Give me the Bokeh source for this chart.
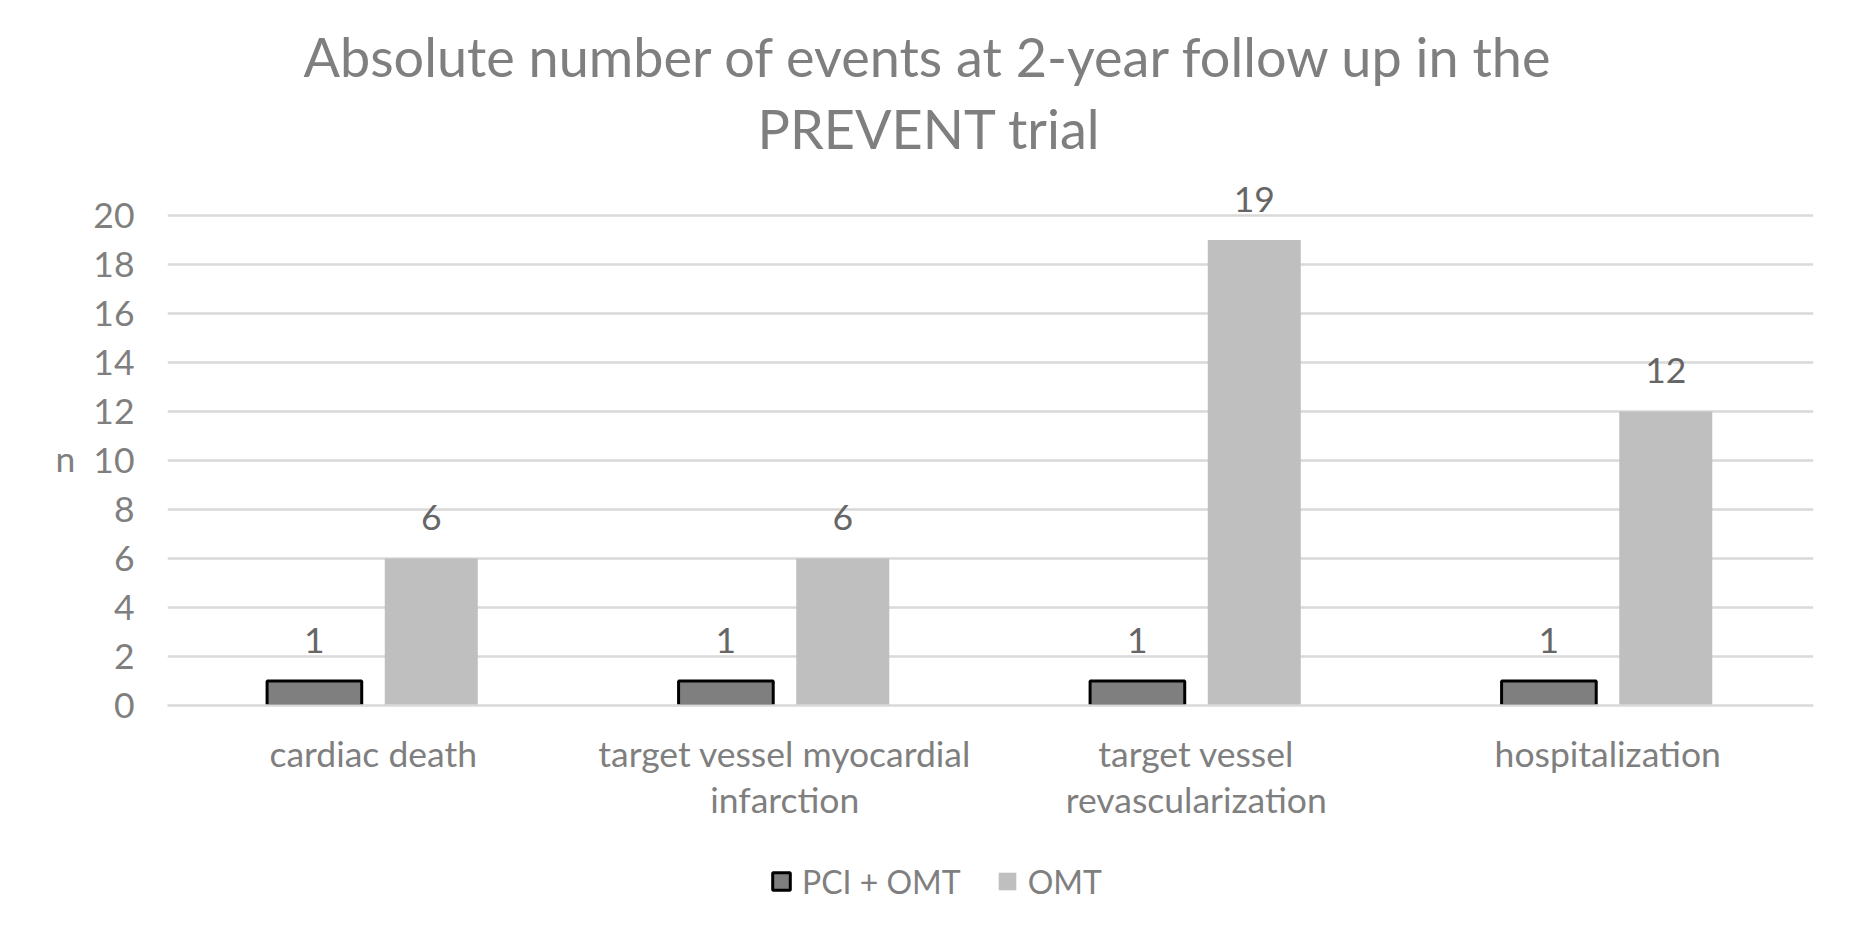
from bokeh.plotting import figure
from bokeh.layouts import column
from bokeh.models import (ColumnDataSource, FactorRange, Range1d, FixedTicker, BoxAnnotation,
                          LabelSet, Title, Legend, LegendItem)
from bokeh.core.properties import value
from bokeh.transform import dodge
from bokeh.embed import file_html
from bokeh.resources import INLINE

# ---- data ----
categories = ["cardiac death", "target vessel myocardial\ninfarction",
              "target vessel\nrevascularization", "hospitalization"]
pci_omt = [1, 1, 1, 1]
omt = [6, 6, 19, 12]
series_names = ["PCI + OMT", "OMT"]
title_lines = ["Absolute number of events at 2-year follow up in the", "PREVENT trial"]
y_label = "n"
y_ticks = [0, 2, 4, 6, 8, 10, 12, 14, 16, 18, 20]

FONT = "Lato"
TXT = "#7f7f7f"
FS = "35.5px"
PCI_STYLE = dict(fill_color="#7f7f7f", line_color="black", line_width=3)
OMT_STYLE = dict(fill_color="#bfbfbf", line_color=None)

src = ColumnDataSource(dict(cat=categories, pci=pci_omt, omt=omt,
                            pci_t=[str(v) for v in pci_omt], omt_t=[str(v) for v in omt]))

p = figure(width=1849, height=850, x_range=FactorRange(*categories), y_range=Range1d(0, 22.04),
           output_backend="svg", toolbar_location=None,
           min_border_left=167, min_border_right=36, min_border_top=165, min_border_bottom=145)
p.outline_line_color = None
p.background_fill_color = "white"
p.border_fill_color = "white"

r1 = p.vbar(x=dodge("cat", -0.143, range=p.x_range), top="pci", width=0.23, source=src, **PCI_STYLE)
r2 = p.vbar(x=dodge("cat", 0.141, range=p.x_range), top="omt", width=0.226, source=src, **OMT_STYLE)

for col, txt, off in (("pci", "pci_t", -0.143), ("omt", "omt_t", 0.141)):
    p.add_layout(LabelSet(x=dodge("cat", off, range=p.x_range), y=col, text=txt, source=src,
                          y_offset=28, text_align="center", text_baseline="alphabetic",
                          text_font=value(FONT), text_font_size=FS, text_color="#666666"))

# grid / axes
p.xgrid.grid_line_color = None
p.ygrid.grid_line_color = "#d9d9d9"
p.ygrid.grid_line_width = 2.7
p.ygrid.level = "underlay"
p.yaxis.ticker = FixedTicker(ticks=y_ticks)
p.yaxis.axis_line_color = None
p.yaxis.major_tick_line_color = None
p.yaxis.minor_tick_line_color = None
p.yaxis.major_label_standoff = 27
p.yaxis.major_label_text_font = FONT
p.yaxis.major_label_text_font_size = FS
p.yaxis.major_label_text_color = TXT
# empty first line drops the "n" to the middle of the 0-20 scale
p.yaxis.axis_label = "\n" + y_label
p.yaxis.axis_label_orientation = "horizontal"
p.yaxis.axis_label_text_font = FONT
p.yaxis.axis_label_text_font_size = FS
p.yaxis.axis_label_text_font_style = "normal"
p.yaxis.axis_label_text_color = TXT
p.yaxis.axis_label_text_line_height = 1.07
p.yaxis.axis_label_standoff = 15

p.xaxis.axis_line_color = "#d9d9d9"
p.xaxis.axis_line_width = 2.7
p.xaxis.major_tick_line_color = None
p.xaxis.minor_tick_line_color = None
p.xaxis.major_label_standoff = 20
p.xaxis.major_label_text_font = FONT
p.xaxis.major_label_text_font_size = FS
p.xaxis.major_label_text_color = TXT
p.xaxis.major_label_text_line_height = 1.07
p.xaxis.major_label_orientation = "horizontal"

# title: two lines
p.title.text = title_lines[0]
p.title.align = "left"
p.title.offset = 136
p.title.standoff = 0
p.title.text_font = FONT
p.title.text_font_size = "54px"
p.title.text_font_style = "normal"
p.title.text_color = TXT
p.add_layout(Title(text=title_lines[1], align="left", offset=590,
                   text_font=FONT, text_font_size="54px", text_font_style="normal",
                   text_color=TXT), "above")

# legend strip below the chart (its frame is aligned with the chart's frame)
lg = figure(width=1849, height=79, x_range=Range1d(0, 1646), y_range=Range1d(0, 79),
            output_backend="svg", toolbar_location=None, x_axis_location=None, y_axis_location=None,
            min_border_left=0, min_border_right=0, min_border_top=0, min_border_bottom=0)
lg.outline_line_color = None
lg.xgrid.grid_line_color = None
lg.ygrid.grid_line_color = None
key_src = ColumnDataSource(dict(x=[1500], top=[20], bottom=[10]))
l1 = lg.vbar(x="x", top="top", bottom="bottom", width=5, source=key_src, **PCI_STYLE)
l2 = lg.vbar(x="x", top="top", bottom="bottom", width=5, source=key_src, **OMT_STYLE)
# white patch hiding the key's source glyphs
lg.add_layout(BoxAnnotation(left=1485, right=1515, bottom=2, top=28, fill_color="white",
                            fill_alpha=1, line_color=None))
legend = Legend(items=[LegendItem(label=series_names[0], renderers=[l1]),
                       LegendItem(label=series_names[1], renderers=[l2])],
                location=(603, 28.5), orientation="horizontal",
                glyph_width=22, glyph_height=22, label_standoff=10, spacing=35,
                padding=0, margin=0, border_line_color=None, background_fill_alpha=0,
                label_text_font=FONT, label_text_font_size="32px", label_text_color=TXT,
                label_height=22)
lg.add_layout(legend, "center")

page = column(p, lg, spacing=0)
open("out.html", "w").write(file_html(page, INLINE))
